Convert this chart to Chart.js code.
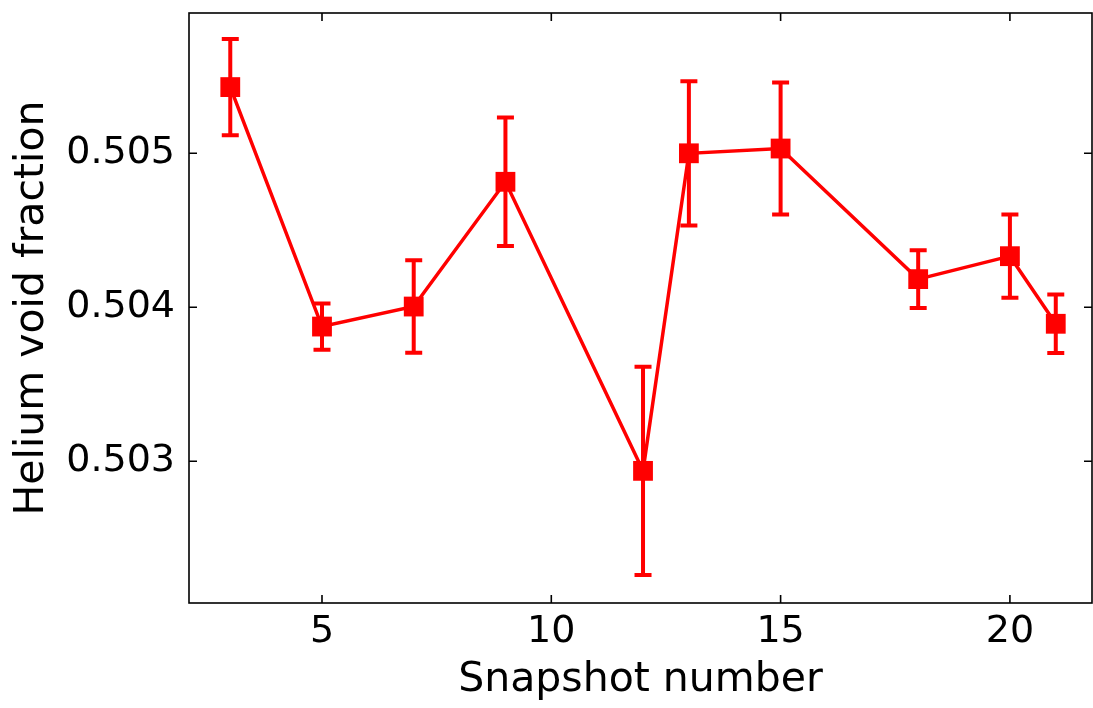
<!DOCTYPE html>
<html lang="en">
<head>
<meta charset="UTF-8">
<title>Helium void fraction</title>
<script src="https://cdn.jsdelivr.net/npm/chart.js"></script>
<style>
    html, body { margin: 0; padding: 0; background: #fff; }
</style>
</head>
<body>
<canvas id="myChart" width="1093" height="708"></canvas>
<script>
    // snapshot index, mean helium void fraction and its uncertainty
    var snapshots = [3, 5, 7, 9, 12, 13, 15, 18, 20, 21];
    var voidFraction = [0.505430, 0.503875, 0.504005, 0.504815, 0.502938, 0.505000, 0.505031, 0.504183, 0.504332, 0.503893];
    var voidError = [0.000312, 0.000150, 0.000300, 0.000417, 0.000676, 0.000468, 0.000429, 0.000188, 0.000270, 0.000190];
    var xTicks = [5, 10, 15, 20];
    var yTicks = [0.503, 0.504, 0.505];

    var RED = '#ff0000';

    // vertical error bars with caps, under the markers
    var errorBars = {
        id: 'errorBars',
        beforeDatasetsDraw: function(chart) {
            var ctx = chart.ctx, xs = chart.scales.x, ys = chart.scales.y;
            ctx.save();
            ctx.strokeStyle = RED;
            ctx.lineWidth = 4;
            snapshots.forEach(function(s, i) {
                var px = xs.getPixelForValue(s);
                var top = ys.getPixelForValue(voidFraction[i] + voidError[i]);
                var bot = ys.getPixelForValue(voidFraction[i] - voidError[i]);
                ctx.beginPath();
                ctx.moveTo(px, top); ctx.lineTo(px, bot);
                ctx.moveTo(px - 8.5, top); ctx.lineTo(px + 8.5, top);
                ctx.moveTo(px - 8.5, bot); ctx.lineTo(px + 8.5, bot);
                ctx.stroke();
            });
            ctx.restore();
        }
    };

    // box around the plot with inward ticks on all four sides
    var frame = {
        id: 'frame',
        afterDraw: function(chart) {
            var ctx = chart.ctx, a = chart.chartArea, xs = chart.scales.x, ys = chart.scales.y;
            var len = 8;
            ctx.save();
            ctx.strokeStyle = '#000';
            ctx.lineWidth = 1.6;
            ctx.strokeRect(a.left, a.top, a.right - a.left, a.bottom - a.top);
            ctx.beginPath();
            xTicks.forEach(function(v) {
                var px = xs.getPixelForValue(v);
                ctx.moveTo(px, a.bottom); ctx.lineTo(px, a.bottom - len);
                ctx.moveTo(px, a.top); ctx.lineTo(px, a.top + len);
            });
            yTicks.forEach(function(v) {
                var py = ys.getPixelForValue(v);
                ctx.moveTo(a.left, py); ctx.lineTo(a.left + len, py);
                ctx.moveTo(a.right, py); ctx.lineTo(a.right - len, py);
            });
            ctx.stroke();
            ctx.restore();
        }
    };

    var points = snapshots.map(function(s, i) { return { x: s, y: voidFraction[i] }; });

    var ctx = document.getElementById('myChart').getContext('2d');
    var myChart = new Chart(ctx, {
        type: 'line',
        data: {
            datasets: [{
                data: points,
                borderColor: RED,
                backgroundColor: RED,
                borderWidth: 3.5,
                pointStyle: 'rect',
                pointRadius: 14,
                pointBorderWidth: 0,
                pointBackgroundColor: RED,
                tension: 0,
                fill: false
            }]
        },
        options: {
            responsive: false,
            animation: false,
            devicePixelRatio: 1,
            layout: { autoPadding: false, padding: { top: 13, right: 1, left: 0, bottom: 0 } },
            plugins: { legend: { display: false }, tooltip: { enabled: false } },
            scales: {
                x: {
                    type: 'linear',
                    min: 2.1,
                    max: 21.79,
                    afterBuildTicks: function(scale) {
                        scale.ticks = xTicks.map(function(v) { return { value: v }; });
                    },
                    afterFit: function(scale) {
                        scale.height = 105;
                        scale.paddingLeft = 0;
                        scale.paddingRight = 0;
                    },
                    grid: { display: false, drawTicks: false },
                    border: { display: false },
                    ticks: {
                        autoSkip: false,
                        maxRotation: 0,
                        padding: 6,
                        color: '#000',
                        font: { family: 'DejaVu Sans', size: 38 }
                    },
                    title: {
                        display: true,
                        text: 'Snapshot number',
                        color: '#000',
                        font: { family: 'DejaVu Sans', size: 41 },
                        padding: { top: 0, bottom: 3 }
                    }
                },
                y: {
                    type: 'linear',
                    min: 0.50208,
                    max: 0.505911,
                    afterBuildTicks: function(scale) {
                        scale.ticks = yTicks.map(function(v) { return { value: v }; });
                    },
                    afterFit: function(scale) {
                        scale.width = 189;
                        scale.paddingTop = 0;
                        scale.paddingBottom = 0;
                    },
                    grid: { display: false, drawTicks: false },
                    border: { display: false },
                    ticks: {
                        autoSkip: false,
                        padding: 14,
                        color: '#000',
                        font: { family: 'DejaVu Sans', size: 38 },
                        callback: function(v) { return v.toFixed(3); }
                    },
                    title: {
                        display: true,
                        text: 'Helium void fraction',
                        color: '#000',
                        font: { family: 'DejaVu Sans', size: 41 },
                        padding: { top: 8, bottom: 0 }
                    }
                }
            }
        },
        plugins: [errorBars, frame]
    });
</script>
</body>
</html>
